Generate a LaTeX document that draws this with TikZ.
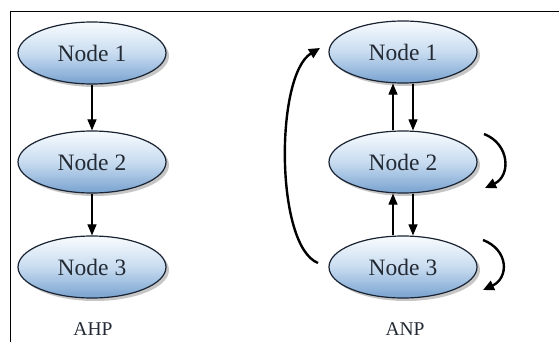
\documentclass[tikz,border=0pt]{standalone}
\usepackage{fontspec}
\setmainfont{Liberation Serif}
\usetikzlibrary{shapes.geometric,arrows.meta,shadows,calc}
\definecolor{nodetop}{RGB}{248,251,254}
\definecolor{nodemid}{RGB}{200,220,240}
\definecolor{nodebot}{RGB}{120,162,208}
\definecolor{edgecol}{RGB}{25,35,50}
\definecolor{txtcol}{RGB}{35,42,52}
\tikzset{
  ahpnode/.style={ellipse, draw=edgecol, line width=1.2pt,
    minimum width=148pt, minimum height=62pt, inner sep=0pt,
    top color=nodetop, bottom color=nodebot, middle color=nodemid,
    drop shadow={shadow xshift=3pt, shadow yshift=-3pt, opacity=0.45, fill=gray},
    font=\fontsize{23.5}{26}\selectfont, text=txtcol},
  flowarrow/.style={line width=1.1pt, draw=black, -{Triangle[length=11pt,width=9pt]}},
  looparrow/.style={line width=2.4pt, draw=black, -{Triangle[length=11pt,width=10pt]}},
  caption/.style={font=\fontsize{19.5}{22}\selectfont, text=txtcol, inner sep=1pt}
}
\begin{document}
\begin{tikzpicture}[x=1pt,y=-1pt]
\useasboundingbox (0,0) rectangle (559,342);
% frame
\draw[line width=1pt] (10,342) -- (10,12) -- (559,12);
% AHP
\node[ahpnode] (l1) at (92,53) {Node 1};
\node[ahpnode] (l2) at (92,162) {Node 2};
\node[ahpnode] (l3) at (92,267) {Node 3};
\draw[flowarrow] (l1.south) -- (l2.north);
\draw[flowarrow] (l2.south) -- (l3.north);
\node[caption] (ahp) at (93,329) {AHP};
% ANP
\node[ahpnode] (r1) at (403,52) {Node 1};
\node[ahpnode] (r2) at (403,162) {Node 2};
\node[ahpnode] (r3) at (403,267) {Node 3};
\draw[flowarrow] ([xshift=-10pt]r2.north) -- ([xshift=-10pt]r1.south);
\draw[flowarrow] ([xshift=10pt]r1.south) -- ([xshift=10pt]r2.north);
\draw[flowarrow] ([xshift=-10pt]r3.north) -- ([xshift=-10pt]r2.south);
\draw[flowarrow] ([xshift=10pt]r2.south) -- ([xshift=10pt]r3.north);
\draw[looparrow] ($(r2)+(81,-28)$) .. controls +(26,10) and +(26,-12) .. ($(r2)+(82,26)$);
\draw[looparrow] ($(r3)+(80,-27)$) .. controls +(26,10) and +(26,-12) .. ($(r3)+(80,23)$);
\draw[looparrow] ($(r3)+(-85,-4)$) .. controls +(-43,-17) and +(-45,27) .. ($(r1)+(-83,-4)$);
\node[caption] (anp) at (405,329) {ANP};
\end{tikzpicture}
\end{document}
